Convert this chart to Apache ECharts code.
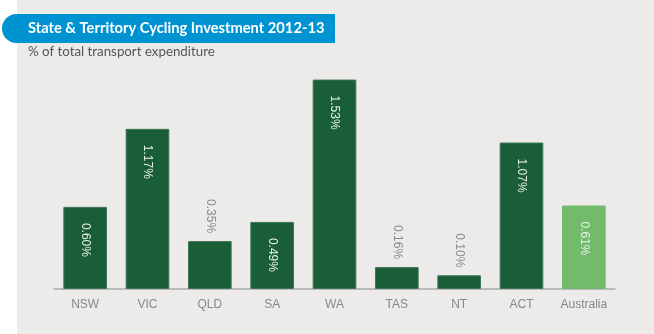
<!DOCTYPE html>
<html><head><meta charset="utf-8">
<script src="https://cdn.jsdelivr.net/npm/echarts@6/dist/echarts.min.js"></script>
<style>html,body{margin:0;padding:0;background:#fff}#c{width:654px;height:334px}</style>
</head><body><div id="c"></div>
<script>
const titleText = 'State & Territory Cycling Investment 2012-13';
const subtitleText = '% of total transport expenditure';
const categories = ['NSW','VIC','QLD','SA','WA','TAS','NT','ACT','Australia'];
const values = [0.60, 1.17, 0.35, 0.49, 1.53, 0.16, 0.10, 1.07, 0.61];
const highlight = 'Australia';
const outsideThreshold = 0.4;

const dark = '#1a5e37', light = '#72bb6c';
const data = values.map((v, i) => {
  const outside = v < outsideThreshold;
  const hl = categories[i] === highlight;
  return {
    value: v,
    itemStyle: { color: hl ? light : dark, borderColor: hl ? light : '#3f7455', borderWidth: 1 },
    label: outside
      ? { position: 'top', distance: 8, align: 'right', color: '#8a8a8a' }
      : { position: 'insideTop', distance: 16, align: 'left', color: '#e8f3ea' }
  };
});

const chart = echarts.init(document.getElementById('c'));
chart.setOption({
  animation: false,
  backgroundColor: '#fff',
  graphic: [
    { type: 'rect', shape: { x: 17, y: 0, width: 637, height: 334 }, style: { fill: '#edebe9' }, z: -10 },
    { type: 'rect', shape: { x: 2, y: 14, width: 333, height: 29, r: [15, 0, 0, 15] }, style: { fill: '#0093d2' } },
    { type: 'text', x: 28, y: 28.5, style: { text: titleText, fill: '#fff', font: 'bold 14.7px Lato', verticalAlign: 'middle' } },
    { type: 'text', x: 28, y: 52, style: { text: subtitleText, fill: '#555', font: '13.3px Lato', verticalAlign: 'middle' } }
  ],
  grid: { left: 54, right: 39, top: 70, bottom: 45 },
  xAxis: {
    type: 'category', data: categories,
    axisLine: { lineStyle: { color: '#aaa', width: 1.5 } },
    axisTick: { show: false },
    axisLabel: { color: '#888', fontSize: 12, fontFamily: 'Liberation Sans', margin: 10 }
  },
  yAxis: { type: 'value', min: 0, max: 1.6, show: false, splitLine: { show: false } },
  series: [{
    type: 'bar', data: data, barWidth: '70%',
    label: {
      show: true, rotate: -90, verticalAlign: 'middle',
      fontSize: 12, fontFamily: 'Liberation Sans',
      formatter: p => p.value.toFixed(2) + '%'
    }
  }]
});
</script></body></html>
